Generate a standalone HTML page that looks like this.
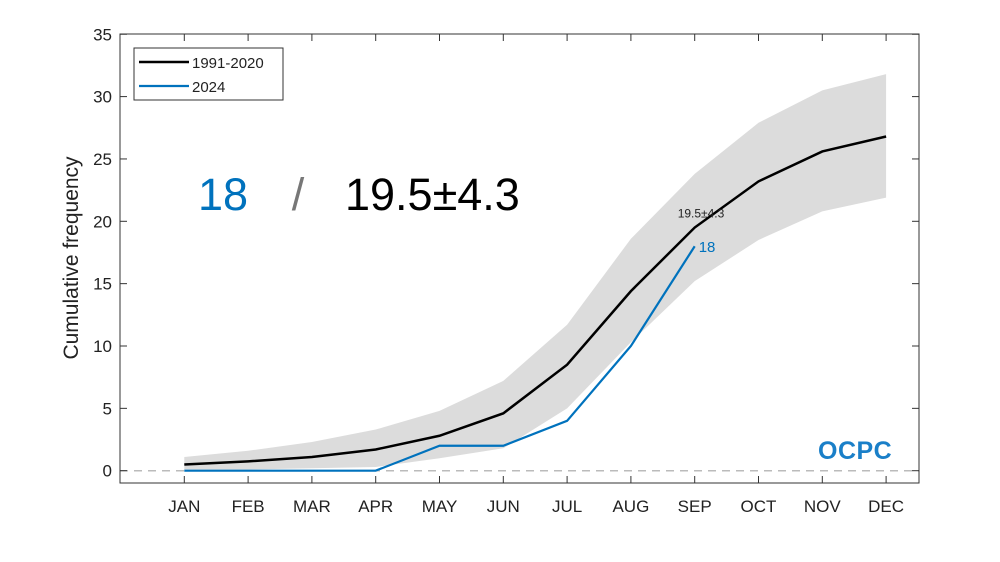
<!DOCTYPE html>
<html><head><meta charset="utf-8"><style>
body{margin:0;background:#fff;}
svg{display:block;font-family:"Liberation Sans",Arial,sans-serif;}
</style></head><body>
<svg id="chart" width="1000" height="562" viewBox="0 0 1000 562"></svg>
<script>
const months=["JAN","FEB","MAR","APR","MAY","JUN","JUL","AUG","SEP","OCT","NOV","DEC"];
const climMean=[0.5,0.75,1.1,1.7,2.8,4.6,8.5,14.4,19.5,23.2,25.6,26.8];
const climUpper=[1.1,1.6,2.3,3.3,4.8,7.2,11.7,18.6,23.8,27.9,30.5,31.8];
const climLower=[0.1,0.1,0.2,0.3,1.0,1.8,5.0,10.3,15.2,18.5,20.8,21.9];
const year2024=[0,0,0,0,2,2,4,10,18];
const yTicks=[0,5,10,15,20,25,30,35];

const L=120,R=919,T=34,B=483;
const x=i=>184.3+i*63.8;
const y=v=>470.7-v*12.47;
const NS="http://www.w3.org/2000/svg";
const svg=document.getElementById('chart');
function mk(tag,attrs,parent){const e=document.createElementNS(NS,tag);for(const k in attrs)e.setAttribute(k,attrs[k]);(parent||svg).appendChild(e);return e;}

let pts=climUpper.map((v,i)=>x(i)+","+y(v)).concat(climLower.map((v,i)=>x(i)+","+y(v)).reverse());
const band=mk('polygon',{points:pts.join(' '),fill:'#dcdcdc'});



const z=mk('line',{x1:L,x2:R,y1:y(0),y2:y(0),stroke:'#bbb','stroke-width':1.5,'stroke-dasharray':'8,6'});



const ml=mk('polyline',{points:climMean.map((v,i)=>x(i)+","+y(v)).join(' '),fill:'none',stroke:'#000','stroke-width':2.5});


const bl=mk('polyline',{points:year2024.map((v,i)=>x(i)+","+y(v)).join(' '),fill:'none',stroke:'#0072bd','stroke-width':2.2});



const box=mk('rect',{x:L,y:T,width:R-L,height:B-T,fill:'none',stroke:'#333','stroke-width':1});



yTicks.forEach(v=>{
  mk('line',{x1:L,x2:L+7,y1:y(v),y2:y(v),stroke:'#333'});
  mk('line',{x1:R,x2:R-7,y1:y(v),y2:y(v),stroke:'#333'});
  const t=mk('text',{x:L-8,y:y(v)+6,'text-anchor':'end','font-size':17,fill:'#222'});
  t.textContent=v;
  
  
});
months.forEach((m,i)=>{
  mk('line',{x1:x(i),x2:x(i),y1:B,y2:B-7,stroke:'#333'});
  mk('line',{x1:x(i),x2:x(i),y1:T,y2:T+7,stroke:'#333'});
  const t=mk('text',{x:x(i),y:512,'text-anchor':'middle','font-size':17,fill:'#222'});
  t.textContent=m;
  
  
});
const yt=mk('text',{x:0,y:0,transform:'translate(78,258) rotate(-90)','text-anchor':'middle','font-size':21,fill:'#222'});
yt.textContent='Cumulative frequency';



const s1=mk('text',{x:223,y:210,'text-anchor':'middle','font-size':45,fill:'#0072bd'});s1.textContent='18';


const s2=mk('text',{x:298,y:210,'text-anchor':'middle','font-size':45,fill:'#777'});s2.textContent='/';


const s3=mk('text',{x:345,y:210,'font-size':45,fill:'#000'});s3.textContent='19.5±4.3';



const a1=mk('text',{x:x(8)-17,y:y(climMean[8])-10,'font-size':12,fill:'#222'});a1.textContent='19.5±4.3';


const a2=mk('text',{x:x(8)+4,y:y(year2024[8])+6,'font-size':15,fill:'#0072bd'});a2.textContent='18';



const lg=mk('g',{});


mk('rect',{x:134,y:48,width:149,height:52,fill:'#fff',stroke:'#333'},lg);
mk('line',{x1:139,x2:189,y1:62,y2:62,stroke:'#000','stroke-width':2.5},lg);
mk('line',{x1:139,x2:189,y1:86,y2:86,stroke:'#0072bd','stroke-width':2.2},lg);
const l1=mk('text',{x:192,y:68,'font-size':15,fill:'#222'},lg);l1.textContent='1991-2020';


const l2=mk('text',{x:192,y:92,'font-size':15,fill:'#222'},lg);l2.textContent='2024';



const lo=mk('text',{x:818,y:459,'font-size':25,'font-weight':'bold',fill:'#1a7fc8','letter-spacing':'0.5'});lo.textContent='OCPC';


</script>
</body></html>
